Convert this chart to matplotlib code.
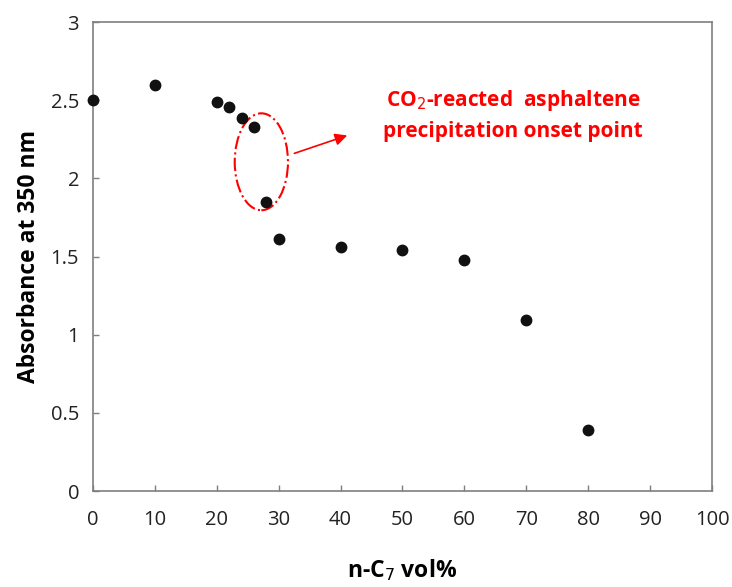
import matplotlib
matplotlib.use("Agg")
import matplotlib.pyplot as plt
from matplotlib.patches import Ellipse

# data
nc7_vol = [0, 10, 20, 22, 24, 26, 28, 30, 40, 50, 60, 70, 80]
absorbance = [2.50, 2.60, 2.49, 2.455, 2.385, 2.33, 1.85, 1.615, 1.56, 1.54, 1.48, 1.096, 0.39]
x_ticks = [0, 10, 20, 30, 40, 50, 60, 70, 80, 90, 100]
y_ticks = [0, 0.5, 1, 1.5, 2, 2.5, 3]
y_tick_labels = ["0", "0.5", "1", "1.5", "2", "2.5", "3"]

plt.rcParams["font.family"] = ["Open Sans", "DejaVu Sans"]

fig = plt.figure(figsize=(7.32, 5.87), dpi=100)
ax = fig.add_axes([0.127, 0.1635, 0.8457, 0.799])

ax.plot(nc7_vol, absorbance, "o", color="#111111", markersize=7.5, clip_on=False, zorder=3)

ax.set_xlim(0, 100)
ax.set_ylim(0, 3)
ax.set_xticks(x_ticks)
ax.set_yticks(y_ticks)
ax.set_yticklabels(y_tick_labels)
ax.tick_params(direction="in", length=4, width=1, color="#7f7f7f", labelsize=14.5,
               labelcolor="#222222", pad=10)
ax.tick_params(axis="x", pad=14)

for sp in ax.spines.values():
    sp.set_color("#7f7f7f")
    sp.set_linewidth(1.2)

ax.set_xlabel("n-C$_7$ vol%", fontsize=16.5, fontweight="bold", labelpad=19)
ax.set_ylabel("Absorbance at 350 nm", fontsize=16.5, fontweight="bold", labelpad=7)

# dash-dot ellipse round the onset point
ell = Ellipse((27.2, 2.106), width=8.6, height=0.62, fill=False, edgecolor="red",
              linestyle="-.", linewidth=1.5)
ax.add_patch(ell)

ax.annotate("", xy=(41.5, 2.28), xytext=(32.1, 2.154),
            arrowprops=dict(arrowstyle="-|>", color="red", lw=1.2, mutation_scale=18))

ax.text(67.9, 2.5, "CO$_2$-reacted  asphaltene", color="red", fontsize=15,
        fontweight="bold", ha="center", va="center")
ax.text(67.9, 2.30, "precipitation onset point", color="red", fontsize=15,
        fontweight="bold", ha="center", va="center")

fig.savefig("out.png", dpi=100)
